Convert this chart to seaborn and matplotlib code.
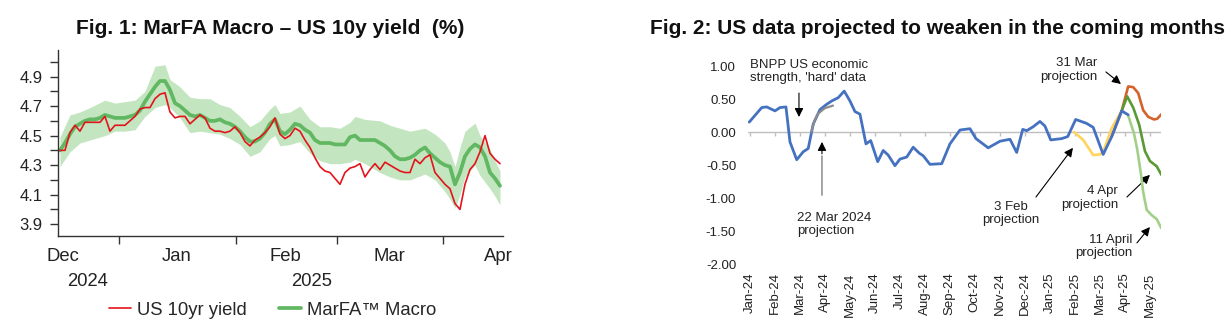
import numpy as np
import pandas as pd
import matplotlib
matplotlib.use("Agg")
import matplotlib.pyplot as plt
import matplotlib.transforms as mtransforms
import seaborn as sns

# ---------------- Fig. 1 data (business-day index) ----------------
us10y = [4.40, 4.40, 4.52, 4.57, 4.53, 4.59, 4.59, 4.59, 4.59, 4.63,
         4.53, 4.57, 4.57, 4.57, 4.60, 4.63, 4.68, 4.69, 4.69, 4.75,
         4.78, 4.79, 4.66, 4.62, 4.63, 4.63, 4.58, 4.61, 4.64, 4.62,
         4.55, 4.53, 4.53, 4.52, 4.53, 4.56, 4.52, 4.46, 4.43, 4.47,
         4.49, 4.52, 4.56, 4.62, 4.51, 4.48, 4.50, 4.55, 4.53, 4.47,
         4.42, 4.35, 4.29, 4.26, 4.25, 4.21, 4.17, 4.25, 4.28, 4.29,
         4.31, 4.22, 4.27, 4.31, 4.27, 4.32, 4.30, 4.28, 4.26, 4.25,
         4.25, 4.34, 4.31, 4.35, 4.37, 4.25, 4.21, 4.17, 4.14, 4.04,
         4.00, 4.17, 4.27, 4.31, 4.39, 4.50, 4.38, 4.34, 4.31]
marfa = [4.40, 4.45, 4.51, 4.56, 4.58, 4.60, 4.61, 4.61, 4.62, 4.64,
         4.63, 4.62, 4.62, 4.62, 4.63, 4.64, 4.67, 4.73, 4.78, 4.83,
         4.87, 4.87, 4.81, 4.72, 4.70, 4.67, 4.64, 4.63, 4.64, 4.62,
         4.60, 4.60, 4.61, 4.59, 4.58, 4.56, 4.53, 4.49, 4.46, 4.46,
         4.48, 4.52, 4.58, 4.61, 4.53, 4.51, 4.54, 4.58, 4.57, 4.54,
         4.52, 4.47, 4.45, 4.45, 4.45, 4.44, 4.44, 4.44, 4.49, 4.50,
         4.47, 4.47, 4.47, 4.47, 4.45, 4.43, 4.40, 4.36, 4.34, 4.34,
         4.35, 4.37, 4.40, 4.42, 4.38, 4.35, 4.32, 4.30, 4.29, 4.17,
         4.25, 4.36, 4.41, 4.44, 4.42, 4.36, 4.25, 4.21, 4.16]
band_x = [0, 2, 4, 6, 9, 11, 13, 15, 17, 19, 21, 22, 24, 26, 28, 30, 32, 34, 36, 38,
          40, 42, 43, 44, 46, 48, 50, 52, 54, 56, 58, 59, 61, 64, 66, 68, 70, 73, 75,
          77, 78, 79, 80, 81, 83, 84, 86, 87, 88]
band_lo = [4.29, 4.39, 4.45, 4.47, 4.50, 4.53, 4.53, 4.54, 4.63, 4.69, 4.71, 4.69, 4.62,
           4.52, 4.53, 4.52, 4.51, 4.48, 4.44, 4.36, 4.39, 4.48, 4.50, 4.43, 4.44, 4.46,
           4.38, 4.33, 4.31, 4.31, 4.32, 4.34, 4.31, 4.25, 4.22, 4.20, 4.20, 4.24, 4.20,
           4.12, 4.07, 4.01, 4.10, 4.22, 4.30, 4.23, 4.14, 4.09, 4.03]
band_hi = [4.49, 4.64, 4.66, 4.69, 4.74, 4.72, 4.73, 4.74, 4.80, 4.97, 4.98, 4.88, 4.83,
           4.76, 4.75, 4.75, 4.71, 4.69, 4.63, 4.56, 4.60, 4.68, 4.71, 4.65, 4.66, 4.70,
           4.61, 4.56, 4.56, 4.55, 4.59, 4.63, 4.61, 4.60, 4.57, 4.55, 4.53, 4.55, 4.51,
           4.45, 4.39, 4.29, 4.42, 4.53, 4.585, 4.50, 4.41, 4.33, 4.26]
f1_month_labels = ["Dec", "Jan", "Feb", "Mar", "Apr"]
f1_month_pos = [0.6, 23.4, 45.0, 65.8, 87.6]
f1_tick_pos = [11.8, 35.2, 55.4, 76.6]
f1_years = ["2024", "2025"]
f1_year_pos = [5.6, 50.4]
f1_yticks = [3.9, 4.0, 4.1, 4.2, 4.3, 4.4, 4.5, 4.6, 4.7, 4.8, 4.9, 5.0]
f1_ylabels = ["3.9", "", "4.1", "", "4.3", "", "4.5", "", "4.7", "", "4.9", ""]

# ---------------- Fig. 2 data (month index: 0 = Jan-24) ----------------
f2_months = ["Jan-24", "Feb-24", "Mar-24", "Apr-24", "May-24", "Jun-24", "Jul-24", "Aug-24",
             "Sep-24", "Oct-24", "Nov-24", "Dec-24", "Jan-25", "Feb-25", "Mar-25", "Apr-25",
             "May-25"]
blue_m = [-0.02, 0.14, 0.48, 0.68, 1.01, 1.21, 1.45, 1.61, 1.88, 2.14, 2.34, 2.54, 2.81,
          3.08, 3.28, 3.54, 3.78, 4.01, 4.21, 4.41, 4.65, 4.84, 5.12, 5.34, 5.54, 5.81,
          6.01, 6.28, 6.54, 6.78, 6.94, 7.21, 7.68, 8.01, 8.41, 8.81, 9.05, 9.54, 10.01,
          10.41, 10.68, 10.92, 11.08, 11.34, 11.61, 11.81, 12.04, 12.48, 12.72, 13.04,
          13.48, 13.74, 14.14, 14.48, 14.88, 15.14]
blue_v = [0.15, 0.22, 0.37, 0.38, 0.32, 0.37, 0.38, -0.15, -0.42, -0.30, -0.25, 0.12, 0.34,
          0.42, 0.47, 0.52, 0.62, 0.47, 0.31, 0.27, -0.18, -0.13, -0.45, -0.28, -0.35, -0.51,
          -0.41, -0.38, -0.23, -0.32, -0.36, -0.49, -0.48, -0.18, 0.03, 0.05, -0.10, -0.24,
          -0.14, -0.11, -0.31, 0.04, 0.02, 0.08, 0.16, 0.09, -0.12, -0.10, -0.07, 0.19,
          0.13, 0.07, -0.34, -0.07, 0.32, 0.26]
grey_m = [2.46, 2.60, 2.74, 3.00, 3.33]
grey_v = [0.00, 0.18, 0.28, 0.36, 0.40]
yel_m = [12.97, 13.34, 13.74, 14.01, 14.14, 14.48, 14.88]
yel_v = [0.00, -0.12, -0.35, -0.34, -0.30, 0.06, 0.32]
org_m = [14.48, 14.88, 15.14, 15.34, 15.54, 15.74, 15.94, 16.17, 16.30, 16.47]
org_v = [-0.07, 0.32, 0.69, 0.68, 0.59, 0.33, 0.23, 0.19, 0.20, 0.27]
dg_m = [14.88, 15.10, 15.34, 15.58, 15.81, 16.01, 16.28, 16.47]
dg_v = [0.32, 0.54, 0.37, 0.11, -0.29, -0.44, -0.52, -0.65]
lg_m = [15.14, 15.37, 15.50, 15.64, 15.74, 15.88, 16.08, 16.28, 16.47]
lg_v = [0.25, -0.02, -0.26, -0.61, -0.91, -1.18, -1.26, -1.32, -1.46]
f2_yticks = [1.0, 0.5, 0.0, -0.5, -1.0, -1.5, -2.0]

# ---------------- style ----------------
sns.set_theme(style="white")
plt.rcParams["font.family"] = ["Liberation Sans", "DejaVu Sans"]
plt.rcParams["axes.unicode_minus"] = False

fig = plt.figure(figsize=(12.28, 3.33), dpi=100)
fig.patch.set_facecolor("white")

# ================= Fig. 1 =================
ax1 = fig.add_axes([0.0472, 0.2913, 0.3624, 0.5586])
idx = np.arange(len(us10y))
ax1.fill_between(band_x, band_lo, band_hi, color="#c3e6c0", linewidth=0, zorder=1)
sns.lineplot(x=idx, y=marfa, ax=ax1, color="#62b862", linewidth=2.7,
             label="MarFA\u2122 Macro", zorder=2)
sns.lineplot(x=idx, y=us10y, ax=ax1, color="#e3141b", linewidth=1.2,
             label="US 10yr yield", zorder=3)
ax1.set_xlim(-0.4, 88.6)
ax1.set_ylim(3.82, 5.08)
ax1.set_xlabel("")
ax1.set_ylabel("")
for s in ["top", "right"]:
    ax1.spines[s].set_visible(False)
for s in ["left", "bottom"]:
    ax1.spines[s].set_color("#333333")
    ax1.spines[s].set_linewidth(1.0)
ax1.set_yticks(f1_yticks)
ax1.set_yticklabels(f1_ylabels)
ax1.tick_params(axis="y", direction="out", length=6, width=1, color="#333333",
                labelsize=12, pad=5, left=True, labelcolor="#222222")
ax1.set_xticks(f1_tick_pos)
ax1.set_xticklabels([""] * len(f1_tick_pos))
ax1.set_xticks(f1_month_pos, minor=True)
ax1.set_xticklabels(f1_month_labels, minor=True)
ax1.tick_params(axis="x", which="major", direction="out", length=6, width=1,
                color="#333333", bottom=True)
ax1.tick_params(axis="x", which="minor", length=0, labelsize=13.3, pad=9,
                labelcolor="#222222", bottom=True)
trans1 = mtransforms.blended_transform_factory(ax1.transData, ax1.transAxes)
for lab, xp in zip(f1_years, f1_year_pos):
    ax1.text(xp, -0.247, lab, transform=trans1, ha="center", va="center",
             fontsize=13.3, color="#222222")
h, l = ax1.get_legend_handles_labels()
ax1.get_legend().remove()
order = [l.index("US 10yr yield"), l.index("MarFA\u2122 Macro")]
fig.legend([h[i] for i in order], [l[i] for i in order], loc="center",
           bbox_to_anchor=(0.222, 0.069), ncol=2, frameon=False, fontsize=13.3,
           handlelength=1.2, handletextpad=0.35, columnspacing=1.7)
fig.text(0.2199, 1 - 28 / 333, "Fig. 1: MarFA Macro \u2013 US 10y yield  (%)",
         ha="center", va="center", fontsize=15, fontweight="bold", color="#111111")

# ================= Fig. 2 =================
ax2 = fig.add_axes([0.6091, 0.2072, 0.3367, 0.5946])
ax2.set_xlim(-0.07, 16.47)
ax2.set_ylim(-2.0, 1.0)
ax2.axhline(0, color="#bfbfbf", linewidth=1.0, zorder=1)
sns.lineplot(x=yel_m, y=yel_v, ax=ax2, color="#ffd45e", linewidth=1.9, zorder=2)
sns.lineplot(x=org_m, y=org_v, ax=ax2, color="#d4622b", linewidth=1.9, zorder=3)
sns.lineplot(x=dg_m, y=dg_v, ax=ax2, color="#5a9a35", linewidth=1.9, zorder=4)
sns.lineplot(x=lg_m, y=lg_v, ax=ax2, color="#a2d088", linewidth=1.9, zorder=5)
sns.lineplot(x=blue_m, y=blue_v, ax=ax2, color="#4572c0", linewidth=2.0, zorder=6)
sns.lineplot(x=grey_m, y=grey_v, ax=ax2, color="#8c8c8c", linewidth=1.6, zorder=7)
ax2.set_xlabel("")
ax2.set_ylabel("")
for s in ax2.spines.values():
    s.set_visible(False)
ax2.set_xticks(range(len(f2_months)))
ax2.set_xticklabels(f2_months, rotation=90)
ax2.tick_params(axis="x", length=0, labelsize=9.5, pad=6, labelcolor="#222222")
ax2.set_yticks(f2_yticks)
ax2.set_yticklabels([f"{v:.2f}" for v in f2_yticks])
ax2.tick_params(axis="y", length=0, labelsize=9.5, pad=8.5, labelcolor="#222222")
# zero line tick marks
sec = ax2.secondary_xaxis(2 / 3)
sec.set_xticks(range(len(f2_months)))
sec.set_xticklabels([])
sec.tick_params(direction="in", length=3, width=1, color="#bfbfbf")
for s in sec.spines.values():
    s.set_visible(False)

txt_kw = dict(fontsize=9.5, color="#222222", linespacing=1.15, annotation_clip=False)
head = dict(arrowstyle="-|>", color="black", lw=0.8, mutation_scale=13,
            shrinkA=0, shrinkB=0)
ax2.annotate("BNPP US economic\nstrength, 'hard' data", xy=(0.01, 0.917),
             ha="left", va="center", **txt_kw)
ax2.annotate("", xy=(1.97, 0.227), xytext=(1.97, 0.59), arrowprops=head,
             annotation_clip=False)
ax2.annotate("22 Mar 2024\nprojection", xy=(1.89, -1.40), ha="left", va="center", **txt_kw)
ax2.annotate("", xy=(2.89, -0.32), xytext=(2.89, -1.0),
             arrowprops=dict(arrowstyle="-", color="#808080", lw=1.0))
ax2.annotate("", xy=(2.89, -0.15), xytext=(2.89, -0.33), arrowprops=head)
ax2.annotate("31 Mar\nprojection", xy=(13.9, 0.94), ha="right", va="center", **txt_kw)
ax2.annotate("", xy=(14.85, 0.727), xytext=(14.25, 0.91), arrowprops=head,
             annotation_clip=False)
ax2.annotate("3 Feb\nprojection", xy=(10.45, -1.235), ha="center", va="center", **txt_kw)
ax2.annotate("", xy=(12.93, -0.24), xytext=(11.45, -0.985), arrowprops=head)
ax2.annotate("4 Apr\nprojection", xy=(14.73, -1.0), ha="right", va="center", **txt_kw)
ax2.annotate("", xy=(16.01, -0.65), xytext=(15.09, -0.985), arrowprops=head)
ax2.annotate("11 April\nprojection", xy=(15.29, -1.735), ha="right", va="center", **txt_kw)
ax2.annotate("", xy=(16.01, -1.44), xytext=(15.49, -1.68), arrowprops=head)

fig.text(937 / 1228, 1 - 28 / 333,
         "Fig. 2: US data projected to weaken in the coming months",
         ha="center", va="center", fontsize=15, fontweight="bold", color="#111111")

fig.savefig("out.png", dpi=100, facecolor="white")
